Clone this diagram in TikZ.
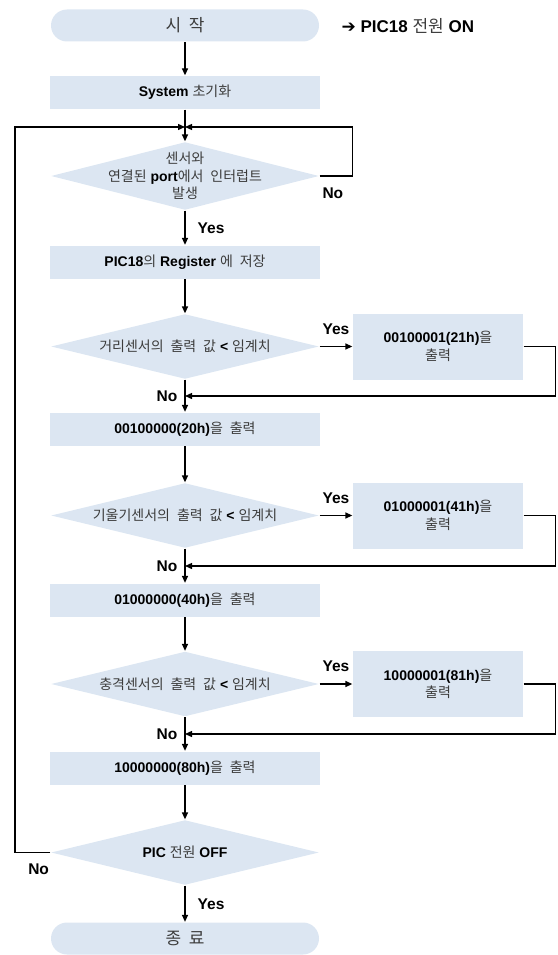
\documentclass[tikz,border=0pt]{standalone}
\usepackage{fontspec}
\setmainfont{Liberation Sans}
\newfontfamily\cjk[WordSpace=2.2]{Noto Sans CJK KR}
\newfontfamily\symb{DejaVu Sans}
\usetikzlibrary{shapes.geometric,arrows.meta}
\definecolor{boxfill}{RGB}{220,230,242}
\definecolor{kotext}{RGB}{60,60,60}
\newcommand{\ko}[1]{{\cjk\mdseries\color{kotext}#1}}

\begin{document}
\begin{tikzpicture}[x=1pt, y=-1pt, line width=1.3pt,
    >={Triangle[length=7pt,width=6pt]},
    font=\fontsize{14}{17.5}\selectfont\bfseries,
    term/.style={rectangle, rounded corners=16pt, fill=boxfill, minimum width=268pt, minimum height=32pt, inner sep=0pt, font=\fontsize{17}{20}\selectfont\bfseries},
    proc/.style={rectangle, fill=boxfill, minimum width=270pt, minimum height=33pt, inner sep=0pt},
    outbox/.style={rectangle, fill=boxfill, minimum width=170pt, minimum height=66pt, inner sep=0pt, align=center},
    decision/.style={diamond, fill=boxfill, minimum width=268pt, minimum height=65pt, inner sep=0pt},
    dtext/.style={align=center, inner sep=0pt},
    lbl/.style={font=\fontsize{15.5}{18}\selectfont\bfseries, inner sep=0pt}]
    \useasboundingbox (0,0) rectangle (557,955);
    % Start
    \node[term] (start) at (185,25.5) {\ko{시\hspace{0.45em}작}};
    \node[anchor=west, inner sep=0pt, font=\fontsize{17}{20}\selectfont\bfseries] (power) at (341,25.5) {{\symb ➔} PIC18 \ko{전원} ON};
    \node[proc] (init) at (185,92.5) {System \ko{초기화}};
    % Interrupt check
    \node[decision, minimum height=68pt] (d1) at (185,176) {};
    \node[dtext] (d1t) at (d1) {\ko{센서와}\\\ko{연결된} port\ko{에서 인터럽트}\\\ko{발생}};
    \node[proc] (reg) at (185,262) {PIC18\ko{의} Register \ko{에 저장}};
    % Distance sensor
    \node[decision] (d2) at (185,346.5) {};
    \node[dtext] (d2t) at (d2) {\ko{거리센서의 출력 값} < \ko{임계치}};
    \node[outbox] (b21) at (438,346.5) {00100001(21h)\ko{을}\\\ko{출력}};
    \node[proc] (b20) at (185,429) {00100000(20h)\ko{을 출력}};
    % Tilt sensor
    \node[decision] (d3) at (185,515.5) {};
    \node[dtext] (d3t) at (d3) {\ko{기울기센서의 출력 값} < \ko{임계치}};
    \node[outbox] (b41) at (438,515.5) {01000001(41h)\ko{을}\\\ko{출력}};
    \node[proc] (b40) at (185,600) {01000000(40h)\ko{을 출력}};
    % Shock sensor
    \node[decision] (d4) at (185,684) {};
    \node[dtext] (d4t) at (d4) {\ko{충격센서의 출력 값} < \ko{임계치}};
    \node[outbox] (b81) at (438,684) {10000001(81h)\ko{을}\\\ko{출력}};
    \node[proc] (b80) at (185,768) {10000000(80h)\ko{을 출력}};
    % Power off
    \node[decision] (d5) at (185,852.5) {};
    \node[dtext] (d5t) at (d5) {PIC \ko{전원} OFF};
    \node[term] (stop) at (185,938.5) {\ko{종\hspace{0.45em}료}};
    % Junctions
    \coordinate (j1) at (185,127);
    \coordinate (j2) at (185,396);
    \coordinate (j3) at (185,566);
    \coordinate (j4) at (185,734);
    % Main flow
    \draw[->] (start) -- (init);
    \draw[->] (init) -- (d1);
    \draw[->] (d1) -- node[lbl, right=12pt] (yes1) {Yes} (reg);
    \draw[->] (d1.east) -- node[lbl, below=11pt, pos=0.4] (no1) {No} ++(33,0) |- (j1);
    \draw[->] (reg) -- (d2);
    \draw[->] (d2) -- node[lbl, above=11.5pt] (yes2) {Yes} (b21);
    \draw[->] (b21.east) -- ++(32,0) |- (j2);
    \draw[->] (d2) -- (b20);
    \node[lbl, left=7pt] (no2) at (j2) {No};
    \draw[->] (b20) -- (d3);
    \draw[->] (d3) -- node[lbl, above=11.5pt] (yes3) {Yes} (b41);
    \draw[->] (b41.east) -- ++(32,0) |- (j3);
    \draw[->] (d3) -- (b40);
    \node[lbl, left=7pt] (no3) at (j3) {No};
    \draw[->] (b40) -- (d4);
    \draw[->] (d4) -- node[lbl, above=11.5pt] (yes4) {Yes} (b81);
    \draw[->] (b81.east) -- ++(32,0) |- (j4);
    \draw[->] (d4) -- (b80);
    \node[lbl, left=7pt] (no4) at (j4) {No};
    \draw[->] (b80) -- (d5);
    \draw[->] (d5.west) -- node[lbl, below=11pt, pos=0.33] (no5) {No} ++(-35.5,0) |- (j1);
    \draw[->] (d5) -- node[lbl, right=12pt] (yes5) {Yes} (stop);
\end{tikzpicture}
\end{document}
